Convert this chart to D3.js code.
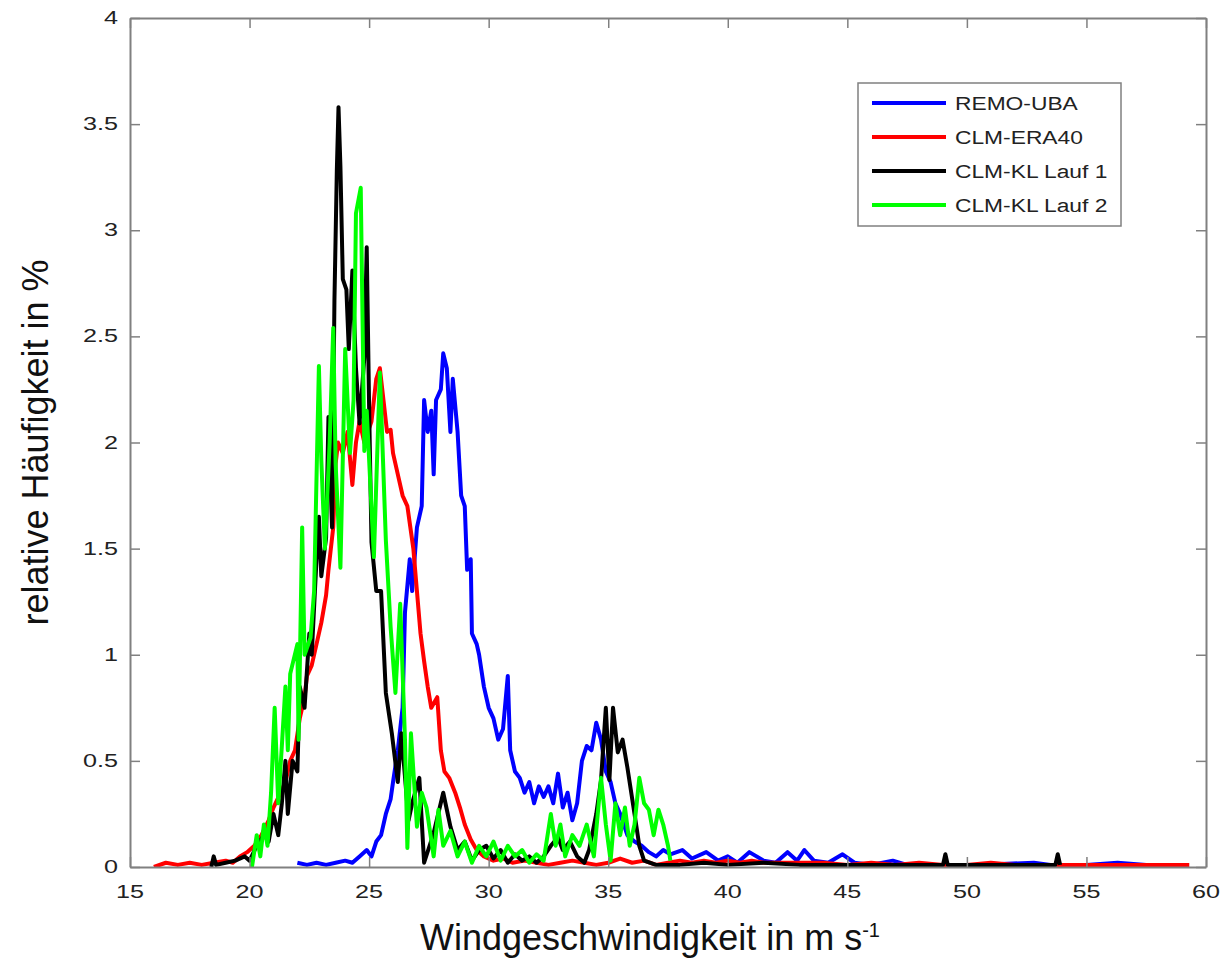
<!DOCTYPE html>
<html>
<head>
<meta charset="utf-8">
<script src="https://cdn.jsdelivr.net/npm/d3@7"></script>
<style>
  body { margin: 0; background: #fff; }
  svg { display: block; font-family: "Liberation Sans", Arial, sans-serif; }
</style>
</head>
<body>
<div id="chart"></div>
<script>
// wind speed (m/s) and relative frequency (%)
const remoUba = [[22.0,0.02],[22.4,0.01],[22.8,0.02],[23.2,0.01],[23.6,0.02],[24.0,0.03],[24.3,0.02],[24.6,0.05],[24.9,0.08],[25.1,0.05],[25.3,0.12],[25.5,0.15],[25.7,0.25],[25.9,0.32],[26.0,0.4],[26.2,0.55],[26.4,0.75],[26.5,1.2],[26.7,1.45],[26.8,1.3],[27.0,1.6],[27.2,1.7],[27.3,2.2],[27.45,2.05],[27.6,2.15],[27.7,1.85],[27.8,2.2],[28.0,2.25],[28.1,2.42],[28.25,2.35],[28.4,2.05],[28.5,2.3],[28.7,2.05],[28.85,1.75],[29.0,1.7],[29.1,1.4],[29.25,1.45],[29.3,1.1],[29.5,1.05],[29.6,1.0],[29.8,0.85],[30.0,0.75],[30.2,0.7],[30.4,0.6],[30.6,0.65],[30.8,0.9],[30.9,0.55],[31.1,0.45],[31.3,0.42],[31.5,0.35],[31.7,0.4],[31.9,0.3],[32.1,0.38],[32.3,0.33],[32.5,0.38],[32.7,0.3],[32.9,0.44],[33.1,0.28],[33.3,0.35],[33.5,0.22],[33.7,0.3],[33.9,0.5],[34.1,0.57],[34.3,0.55],[34.5,0.68],[34.7,0.6],[34.9,0.45],[35.1,0.4],[35.3,0.3],[35.5,0.25],[35.8,0.15],[36.1,0.12],[36.4,0.1],[36.7,0.07],[37.0,0.05],[37.3,0.08],[37.6,0.06],[38.1,0.08],[38.5,0.04],[39.1,0.07],[39.6,0.03],[40.0,0.05],[40.4,0.02],[40.9,0.07],[41.5,0.03],[42.0,0.02],[42.5,0.07],[42.9,0.03],[43.2,0.08],[43.6,0.03],[44.2,0.02],[44.8,0.06],[45.3,0.02],[46.0,0.01],[46.9,0.03],[47.5,0.01],[49.0,0.01],[50.5,0.01],[52.8,0.02],[53.5,0.01],[55.0,0.01],[56.3,0.02],[57.5,0.01]];
const clmEra40 = [[16.0,0.0],[16.5,0.02],[17.0,0.01],[17.5,0.02],[18.0,0.01],[18.5,0.02],[19.0,0.03],[19.3,0.02],[19.6,0.05],[19.9,0.07],[20.2,0.1],[20.5,0.15],[20.8,0.22],[21.0,0.28],[21.3,0.35],[21.5,0.4],[21.7,0.5],[21.9,0.55],[22.1,0.7],[22.3,0.8],[22.4,0.9],[22.6,0.95],[22.8,1.05],[23.0,1.15],[23.2,1.28],[23.3,1.4],[23.5,1.6],[23.6,1.9],[23.7,2.0],[23.9,1.95],[24.1,2.05],[24.3,1.8],[24.45,2.0],[24.6,2.1],[24.8,2.0],[24.95,2.05],[25.1,2.1],[25.3,2.3],[25.45,2.35],[25.6,2.2],[25.75,2.05],[25.9,2.06],[26.0,1.95],[26.2,1.85],[26.4,1.75],[26.6,1.7],[26.75,1.58],[26.85,1.5],[27.0,1.3],[27.15,1.1],[27.3,0.97],[27.45,0.85],[27.6,0.75],[27.85,0.8],[28.0,0.55],[28.15,0.45],[28.35,0.42],[28.6,0.35],[28.8,0.28],[29.0,0.2],[29.25,0.13],[29.5,0.08],[29.8,0.05],[30.2,0.03],[30.6,0.04],[31.0,0.02],[31.5,0.03],[32.0,0.02],[32.5,0.01],[33.0,0.02],[33.5,0.03],[34.0,0.02],[34.5,0.01],[35.0,0.02],[35.5,0.04],[36.0,0.02],[36.5,0.03],[37.0,0.01],[37.5,0.02],[38.0,0.03],[38.5,0.02],[39.0,0.03],[39.5,0.02],[40.0,0.03],[40.5,0.02],[41.0,0.03],[41.5,0.02],[42.0,0.02],[43.0,0.02],[44.0,0.02],[45.0,0.01],[46.0,0.02],[47.0,0.01],[48.0,0.02],[49.0,0.01],[50.0,0.01],[51.0,0.02],[52.0,0.01],[53.0,0.01],[54.0,0.01],[55.0,0.01],[56.0,0.01],[57.0,0.01],[58.0,0.01],[59.0,0.01],[59.3,0.01]];
const clmKlLauf1 = [[18.4,0.0],[18.5,0.05],[18.6,0.01],[19.0,0.02],[19.4,0.03],[19.8,0.05],[20.0,0.03],[20.3,0.1],[20.6,0.15],[20.8,0.12],[21.0,0.25],[21.2,0.15],[21.35,0.3],[21.5,0.5],[21.6,0.25],[21.8,0.5],[22.0,0.45],[22.1,0.85],[22.3,0.75],[22.5,1.1],[22.6,1.0],[22.8,1.45],[22.9,1.65],[23.0,1.37],[23.2,1.55],[23.3,2.12],[23.45,1.6],[23.55,2.67],[23.65,3.28],[23.72,3.58],[23.8,3.3],[23.9,2.77],[24.05,2.72],[24.15,2.44],[24.3,2.81],[24.45,2.35],[24.6,2.09],[24.8,2.4],[24.9,2.92],[25.0,2.17],[25.1,1.53],[25.3,1.3],[25.5,1.3],[25.7,0.82],[25.95,0.63],[26.2,0.4],[26.35,0.63],[26.65,0.22],[26.8,0.3],[27.1,0.42],[27.3,0.02],[27.7,0.16],[28.1,0.35],[28.4,0.19],[28.7,0.08],[29.0,0.12],[29.3,0.03],[29.6,0.08],[29.9,0.1],[30.2,0.04],[30.5,0.08],[30.8,0.02],[31.1,0.06],[31.4,0.03],[31.7,0.05],[32.0,0.02],[32.3,0.05],[32.6,0.1],[32.9,0.14],[33.1,0.08],[33.4,0.12],[33.7,0.05],[34.0,0.02],[34.2,0.08],[34.5,0.25],[34.7,0.41],[34.9,0.75],[35.05,0.41],[35.2,0.75],[35.4,0.54],[35.6,0.6],[35.8,0.47],[36.1,0.25],[36.3,0.1],[36.5,0.03],[37.0,0.01],[38.0,0.01],[39.0,0.02],[40.0,0.01],[41.5,0.02],[43.0,0.01],[44.5,0.01],[46.0,0.01],[47.5,0.01],[49.0,0.01],[49.1,0.06],[49.2,0.01],[51.0,0.01],[53.7,0.01],[53.8,0.06],[53.9,0.01]];
const clmKlLauf2 = [[20.1,0.0],[20.3,0.15],[20.45,0.05],[20.6,0.2],[20.75,0.1],[20.9,0.35],[21.05,0.75],[21.2,0.3],[21.35,0.57],[21.5,0.85],[21.6,0.55],[21.7,0.91],[22.0,1.05],[22.05,0.6],[22.2,1.6],[22.3,1.0],[22.55,1.08],[22.7,1.3],[22.9,2.36],[23.0,1.92],[23.15,1.5],[23.35,2.0],[23.5,2.54],[23.6,1.9],[23.8,1.41],[24.0,2.44],[24.2,1.95],[24.35,2.2],[24.45,3.08],[24.65,3.2],[24.8,1.96],[24.9,2.15],[25.2,1.46],[25.45,2.33],[25.7,1.54],[25.9,1.13],[26.1,0.82],[26.3,1.24],[26.5,0.6],[26.6,0.09],[26.75,0.63],[27.0,0.19],[27.2,0.35],[27.4,0.28],[27.7,0.05],[27.9,0.27],[28.1,0.1],[28.4,0.17],[28.7,0.05],[29.0,0.12],[29.3,0.02],[29.6,0.1],[29.9,0.05],[30.2,0.12],[30.5,0.03],[30.8,0.1],[31.1,0.05],[31.4,0.08],[31.7,0.02],[32.0,0.06],[32.3,0.03],[32.6,0.25],[32.8,0.1],[33.0,0.2],[33.2,0.05],[33.5,0.15],[33.8,0.1],[34.1,0.2],[34.4,0.05],[34.7,0.42],[34.9,0.2],[35.1,0.03],[35.3,0.3],[35.5,0.15],[35.7,0.28],[35.9,0.1],[36.1,0.2],[36.3,0.42],[36.5,0.3],[36.7,0.27],[36.9,0.15],[37.1,0.27],[37.3,0.2],[37.5,0.1],[37.6,0.03]];

const seriesNames = ['REMO-UBA', 'CLM-ERA40', 'CLM-KL Lauf 1', 'CLM-KL Lauf 2'];
const seriesColors = ['#0000ff', '#ff0000', '#000000', '#00ff00'];
const xTicks = [15, 20, 25, 30, 35, 40, 45, 50, 55, 60];
const yTicks = [0, 0.5, 1, 1.5, 2, 2.5, 3, 3.5, 4];

const series = [remoUba, clmEra40, clmKlLauf1, clmKlLauf2];

let margin = { top: 18, right: 25, bottom: 96, left: 130 };
let W = 1231, H = 963;
let width = W - margin.left - margin.right;
let height = H - margin.top - margin.bottom;

let x = d3.scaleLinear().domain([15, 60]).range([0, width]);
let y = d3.scaleLinear().domain([0, 4]).range([height, 0]);

let svg = d3.select('#chart').append('svg')
    .attr('width', W).attr('height', H);
let g = svg.append('g')
    .attr('transform', 'translate(' + margin.left + ',' + margin.top + ')');

let axisColor = '#808080';
let tickFont = 18, tickStretch = 1.4;

// clip so lines stay in the box
g.append('clipPath').attr('id', 'clip')
    .append('rect').attr('width', width).attr('height', height);

let line = d3.line()
    .x(function (d) { return x(d[0]); })
    .y(function (d) { return y(d[1]); });

g.append('g').attr('clip-path', 'url(#clip)')
    .selectAll('path')
    .data(series)
    .enter().append('path')
    .attr('fill', 'none')
    .attr('stroke', function (d, i) { return seriesColors[i]; })
    .attr('stroke-width', 4)
    .attr('stroke-linejoin', 'round')
    .attr('d', line);

// box axes, ticks pointing inward
let axBottom = g.append('g').attr('transform', 'translate(0,' + height + ')')
    .call(d3.axisBottom(x).tickValues(xTicks).tickSizeInner(-10).tickSizeOuter(0).tickFormat(''));
let axTop = g.append('g')
    .call(d3.axisTop(x).tickValues(xTicks).tickSizeInner(-10).tickSizeOuter(0).tickFormat(''));
let axLeft = g.append('g')
    .call(d3.axisLeft(y).tickValues(yTicks).tickSizeInner(-10).tickSizeOuter(0).tickFormat(''));
let axRight = g.append('g').attr('transform', 'translate(' + width + ',0)')
    .call(d3.axisRight(y).tickValues(yTicks).tickSizeInner(-10).tickSizeOuter(0).tickFormat(''));
[axBottom, axTop, axLeft, axRight].forEach(function (a) {
    a.selectAll('path').attr('stroke', axisColor).attr('stroke-width', 2);
    a.selectAll('line').attr('stroke', axisColor).attr('stroke-width', 1.5);
});

// tick labels (slightly wide, like the scanned figure)
g.selectAll('.xlab').data(xTicks).enter().append('text')
    .attr('transform', function (d) { return 'translate(' + x(d) + ',' + (height + 31) + ') scale(' + tickStretch + ',1)'; })
    .attr('text-anchor', 'middle')
    .attr('font-size', tickFont)
    .attr('fill', '#222')
    .text(function (d) { return d; });
g.selectAll('.ylab').data(yTicks).enter().append('text')
    .attr('transform', function (d) { return 'translate(-12,' + (y(d) + 6) + ') scale(' + tickStretch + ',1)'; })
    .attr('text-anchor', 'end')
    .attr('font-size', tickFont)
    .attr('fill', '#222')
    .text(function (d) { return d; });

// axis titles
let xt = svg.append('text')
    .attr('x', 650).attr('y', 950)
    .attr('text-anchor', 'middle')
    .attr('font-size', 36)
    .attr('fill', '#111');
xt.append('tspan').text('Windgeschwindigkeit in m s');
xt.append('tspan').attr('dy', -13).attr('font-size', 20).text('-1');

svg.append('text')
    .attr('transform', 'translate(48,' + (margin.top + height / 2) + ') rotate(-90)')
    .attr('text-anchor', 'middle')
    .attr('font-size', 36)
    .attr('fill', '#111')
    .text('relative Häufigkeit in %');

// legend
let lg = svg.append('g').attr('transform', 'translate(858,83)');
lg.append('rect').attr('width', 263).attr('height', 143)
    .attr('fill', '#fff').attr('stroke', axisColor).attr('stroke-width', 1.5);
seriesNames.forEach(function (name, i) {
    let ry = 20 + i * 34;
    lg.append('line').attr('x1', 14).attr('x2', 88).attr('y1', ry).attr('y2', ry)
        .attr('stroke', seriesColors[i]).attr('stroke-width', 4);
    lg.append('text')
        .attr('transform', 'translate(97,' + (ry + 7) + ') scale(1.2,1)')
        .attr('font-size', 19)
        .attr('fill', '#222')
        .text(name);
});
</script>
</body>
</html>
